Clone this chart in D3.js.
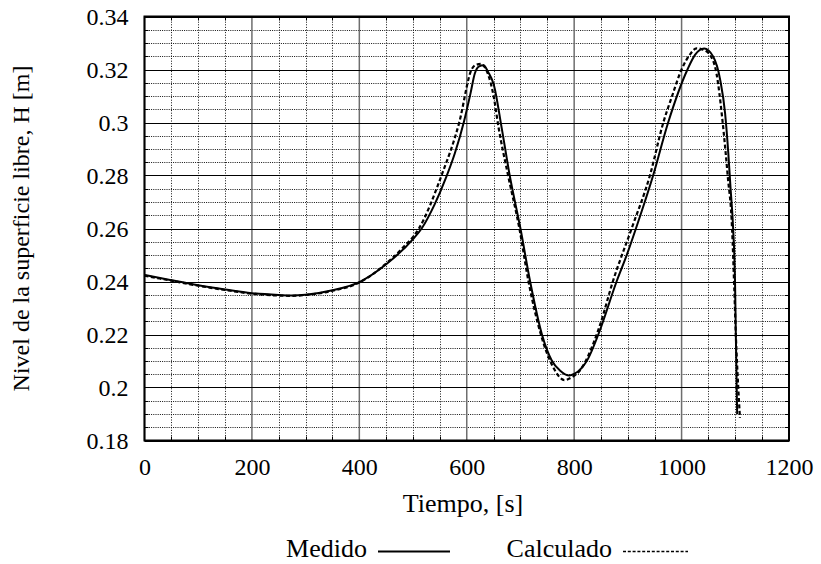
<!DOCTYPE html>
<html>
<head>
<meta charset="utf-8">
<script src="https://cdn.jsdelivr.net/npm/d3@7"></script>
<style>
  body { margin: 0; background: #fff; }
  text { font-family: "Liberation Serif", "Times New Roman", serif; fill: #000; }
</style>
</head>
<body>
<div id="chart"></div>
<script>
'use strict';

// Serie medida: tiempo [s] y nivel [m]
var medidoT = [0, 50, 100, 150, 200, 250, 275, 300, 350, 400, 450, 500, 516, 540, 561, 578, 595, 607, 615, 623, 631,
  640, 650, 665, 680, 700, 718, 740, 758, 774, 791, 800, 826, 845, 879, 899, 915, 947, 975, 1011, 1025,
  1042, 1059, 1072, 1081, 1087, 1091, 1096, 1099.5, 1101, 1102.6, 1103.5];
var medidoH = [0.2425, 0.2405, 0.2386, 0.2370, 0.2356, 0.2349, 0.2347, 0.2350, 0.2367, 0.2398, 0.2465, 0.2560, 0.2600, 0.2690, 0.2790, 0.2885, 0.3005, 0.3110, 0.3185, 0.3212, 0.3216,
  0.3190, 0.3145, 0.2980, 0.2800, 0.2600, 0.2400, 0.2200, 0.2103, 0.2063, 0.2045, 0.2051, 0.2109, 0.2200, 0.2400, 0.2506, 0.2600, 0.2800, 0.3000, 0.3200, 0.3255,
  0.3279, 0.3248, 0.3160, 0.3035, 0.2884, 0.2757, 0.2600, 0.2400, 0.2200, 0.2000, 0.1900];

// Serie calculada
var calculadoT = [0, 50, 100, 150, 200, 250, 275, 300, 350, 400, 450, 480, 511, 553, 586, 609, 618, 626,
  640, 650, 659, 677, 698, 715, 738, 760, 782, 795, 811, 842, 848, 872, 907, 941, 966, 982, 1000, 1015,
  1028, 1040, 1053, 1065, 1076, 1086, 1094, 1098, 1101, 1105.5, 1108.7];
var calculadoH = [0.2422, 0.2403, 0.2384, 0.2368, 0.2354, 0.2347, 0.2346, 0.2349, 0.2365, 0.2396, 0.2468, 0.2525, 0.2600, 0.2800, 0.3000, 0.3200, 0.3218, 0.3221,
  0.3180, 0.3100, 0.2984, 0.2800, 0.2600, 0.2400, 0.2200, 0.2080, 0.2028, 0.2038, 0.2065, 0.2200, 0.2235, 0.2400, 0.2600, 0.2800, 0.3000, 0.3098, 0.3200, 0.3255,
  0.3280, 0.3275, 0.3254, 0.3185, 0.3010, 0.2796, 0.2600, 0.2380, 0.2200, 0.2000, 0.1885];

// Marcas de los ejes
var xTicks = [0, 200, 400, 600, 800, 1000, 1200];
var xMinor = [50, 100, 150, 250, 300, 350, 450, 500, 550, 650, 700, 750, 850, 900, 950, 1050, 1100, 1150];
var yTicks = [0.18, 0.2, 0.22, 0.24, 0.26, 0.28, 0.3, 0.32, 0.34];
var yMinor = [0.185, 0.19, 0.195, 0.205, 0.21, 0.215, 0.225, 0.23, 0.235, 0.245, 0.25, 0.255,
  0.265, 0.27, 0.275, 0.285, 0.29, 0.295, 0.305, 0.31, 0.315, 0.325, 0.33, 0.335];

var width = 821, height = 564;
var plotLeft = 144.5, plotRight = 789, plotTop = 16.5, plotBottom = 440.5;
var tickFont = 24, titleFont = 26;

var svg = d3.select('#chart')
  .append('svg')
  .attr('width', width)
  .attr('height', height);

var x = d3.scaleLinear().domain([0, 1200]).range([plotLeft, plotRight]);
var y = d3.scaleLinear().domain([0.18, 0.34]).range([plotBottom, plotTop]);

// posiciones nítidas (medio píxel)
function px(v) { return Math.round(v) + 0.5; }

// Rejilla menor punteada
var grid = svg.append('g').attr('class', 'grid');

grid.selectAll('.vminor')
  .data(xMinor)
  .enter().append('line')
  .attr('x1', function(d) { return px(x(d)); })
  .attr('x2', function(d) { return px(x(d)); })
  .attr('y1', plotTop).attr('y2', plotBottom)
  .attr('stroke', '#111')
  .attr('stroke-width', 1)
  .attr('stroke-dasharray', '1,1.6');

grid.selectAll('.hminor')
  .data(yMinor)
  .enter().append('line')
  .attr('x1', plotLeft).attr('x2', plotRight)
  .attr('y1', function(d) { return px(y(d)); })
  .attr('y2', function(d) { return px(y(d)); })
  .attr('stroke', '#111')
  .attr('stroke-width', 1)
  .attr('stroke-dasharray', '1,1.2');

// Rejilla mayor
grid.selectAll('.vmajor')
  .data(xTicks)
  .enter().append('line')
  .attr('x1', function(d) { return x(d); })
  .attr('x2', function(d) { return x(d); })
  .attr('y1', plotTop).attr('y2', plotBottom)
  .attr('stroke', '#6e6e6e')
  .attr('stroke-width', 1.5);

grid.selectAll('.hmajor')
  .data(yTicks)
  .enter().append('line')
  .attr('x1', plotLeft).attr('x2', plotRight)
  .attr('y1', function(d) { return px(y(d)); })
  .attr('y2', function(d) { return px(y(d)); })
  .attr('stroke', '#000')
  .attr('stroke-width', 1.2);

// Marcas menores hacia dentro en los cuatro lados
var tickLen = 4;
xMinor.forEach(function(d) {
  grid.append('line').attr('x1', px(x(d))).attr('x2', px(x(d)))
    .attr('y1', plotBottom).attr('y2', plotBottom - tickLen).attr('stroke', '#000');
  grid.append('line').attr('x1', px(x(d))).attr('x2', px(x(d)))
    .attr('y1', plotTop).attr('y2', plotTop + tickLen).attr('stroke', '#000');
});
yMinor.forEach(function(d) {
  var yy = px(y(d));
  grid.append('line').attr('x1', plotLeft).attr('x2', plotLeft + tickLen)
    .attr('y1', yy).attr('y2', yy).attr('stroke', '#000');
  grid.append('line').attr('x1', plotRight).attr('x2', plotRight - tickLen)
    .attr('y1', yy).attr('y2', yy).attr('stroke', '#000');
});

// Ejes (solo etiquetas)
var xAxis = svg.append('g')
  .attr('transform', 'translate(0,' + plotBottom + ')')
  .call(d3.axisBottom(x).tickValues(xTicks).tickSize(0).tickPadding(17.5).tickFormat(d3.format('d')));
var yAxis = svg.append('g')
  .attr('transform', 'translate(' + plotLeft + ',0)')
  .call(d3.axisLeft(y).tickValues(yTicks).tickSize(0).tickPadding(16).tickFormat(d3.format('~g')));

[xAxis, yAxis].forEach(function(ax) {
  ax.select('.domain').remove();
  ax.selectAll('text')
    .style('font-family', '"Liberation Serif", "Times New Roman", serif')
    .style('font-size', tickFont + 'px')
    .attr('fill', '#000');
});

// Curvas
var line = d3.line()
  .x(function(d) { return x(d[0]); })
  .y(function(d) { return y(d[1]); })
  .curve(d3.curveMonotoneX);

var medido = d3.zip(medidoT, medidoH);
var calculado = d3.zip(calculadoT, calculadoH);

var plot = svg.append('g');

plot.append('path')
  .datum(calculado)
  .attr('d', line)
  .attr('fill', 'none')
  .attr('stroke', '#000')
  .attr('stroke-width', 2.2)
  .attr('stroke-dasharray', '4,2.5');

plot.append('path')
  .datum(medido)
  .attr('d', line)
  .attr('fill', 'none')
  .attr('stroke', '#000')
  .attr('stroke-width', 2);

// Marco
svg.append('rect')
  .attr('x', plotLeft).attr('y', plotTop)
  .attr('width', plotRight - plotLeft).attr('height', plotBottom - plotTop)
  .attr('fill', 'none')
  .attr('stroke', '#000')
  .attr('stroke-width', 2);

// Títulos de los ejes
svg.append('text')
  .attr('x', 463)
  .attr('y', 512)
  .attr('text-anchor', 'middle')
  .style('font-size', titleFont + 'px')
  .text('Tiempo, [s]');

svg.append('text')
  .attr('transform', 'translate(29,' + ((plotTop + plotBottom) / 2) + ') rotate(-90)')
  .attr('text-anchor', 'middle')
  .style('font-size', tickFont + 'px')
  .text('Nivel de la superficie libre, H [m]');

// Leyenda
var legend = svg.append('g');
legend.append('text')
  .attr('x', 367).attr('y', 557)
  .attr('text-anchor', 'end')
  .style('font-size', titleFont + 'px')
  .text('Medido');
legend.append('line')
  .attr('x1', 378).attr('x2', 450)
  .attr('y1', 551.5).attr('y2', 551.5)
  .attr('stroke', '#000')
  .attr('stroke-width', 2);
legend.append('text')
  .attr('x', 612).attr('y', 557)
  .attr('text-anchor', 'end')
  .style('font-size', titleFont + 'px')
  .text('Calculado');
legend.append('line')
  .attr('x1', 623).attr('x2', 688)
  .attr('y1', 551.5).attr('y2', 551.5)
  .attr('stroke', '#000')
  .attr('stroke-width', 1.3)
  .attr('stroke-dasharray', '3,1.8');
</script>
</body>
</html>
